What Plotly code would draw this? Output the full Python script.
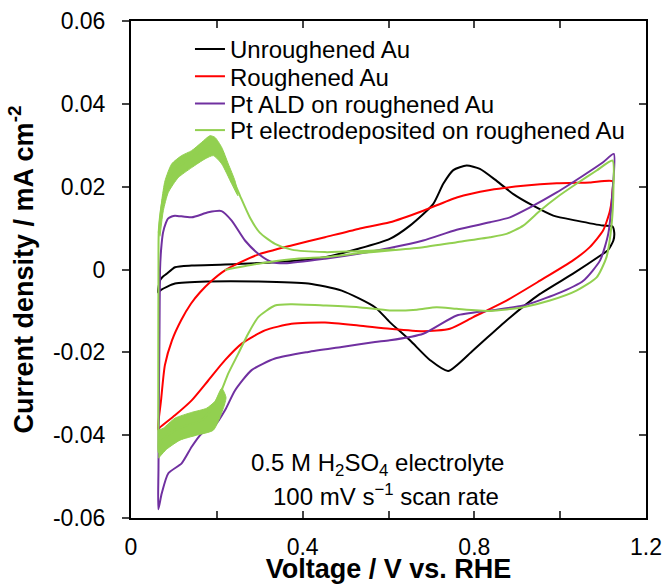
import plotly.graph_objects as go

# ---------------- data ----------------
unrough_v = [0.063, 0.0676, 0.0729, 0.0832, 0.1025, 0.1414, 0.219, 0.3355, 0.452, 0.5296, 0.603, 0.65, 0.704,
             0.7276, 0.751, 0.782, 0.813, 0.852, 0.891, 0.937, 0.984, 1.038, 1.100, 1.122,
             1.126, 1.124, 1.111, 1.100, 1.030, 0.953, 0.875, 0.7975, 0.739, 0.697, 0.650, 0.603, 0.5685,
             0.491, 0.413, 0.2966, 0.180, 0.1025, 0.070, 0.063]
unrough_i = [-0.0055, -0.00265, -0.00186, -0.00104, 0.00055, 0.00096, 0.0012, 0.00176, 0.00296, 0.005, 0.0074,
             0.0106, 0.0158, 0.0207, 0.024, 0.0251, 0.0243, 0.0214, 0.0182, 0.0154, 0.013, 0.0118, 0.0106, 0.0104,
             0.0089, 0.007, 0.0046, 0.0038, -0.001, -0.0059, -0.0123, -0.0195, -0.0245, -0.0219, -0.0171,
             -0.0127, -0.0091, -0.0051, -0.0034, -0.0029, -0.0029, -0.0034, -0.0049, -0.0055]

rough_v = [0.063, 0.070, 0.079, 0.0955, 0.1165, 0.140, 0.161, 0.186, 0.219, 0.258, 0.296, 0.374, 0.452, 0.5296,
           0.603, 0.681, 0.759, 0.8365, 0.914, 0.992, 1.069, 1.122,
           1.122, 1.116, 1.100, 1.069, 1.030, 0.953, 0.875, 0.7975, 0.743, 0.681, 0.603, 0.5296, 0.452, 0.374,
           0.312, 0.258, 0.219, 0.180, 0.1414, 0.1025, 0.0676, 0.063]
rough_i = [-0.0386, -0.0316, -0.0231, -0.0171, -0.0123, -0.0082, -0.0055, -0.0029, -0.0002, 0.0019, 0.0036,
           0.0058, 0.0078, 0.0098, 0.0114, 0.0142, 0.0174, 0.0192, 0.0202, 0.0208, 0.0210, 0.0213,
           0.019, 0.0142, 0.0094, 0.0054, 0.0022, -0.0027, -0.0075, -0.0115, -0.0143, -0.0149, -0.0143,
           -0.0135, -0.0128, -0.0131, -0.0147, -0.0179, -0.0219, -0.0268, -0.0316, -0.0352, -0.0381, -0.0386]

ptald_v = [0.0636, 0.064, 0.065, 0.0664, 0.0676, 0.070, 0.0746, 0.0815, 0.0862, 0.0948, 0.1025, 0.1414, 0.180,
           0.211, 0.2346, 0.2656, 0.2966, 0.328, 0.359, 0.452, 0.5296, 0.603, 0.681, 0.759, 0.8365, 0.883, 0.930,
           0.992, 1.054, 1.100, 1.125,
           1.122, 1.112, 1.093, 1.054, 0.992, 0.914, 0.8365, 0.759, 0.681, 0.603, 0.5685, 0.491, 0.413, 0.3355,
           0.281, 0.2423, 0.219, 0.1957, 0.1647, 0.1414, 0.118, 0.087, 0.0715, 0.0636]
ptald_i = [-0.0579, -0.0484, -0.0316, -0.0147, -0.0002, 0.0046, 0.0089, 0.0113, 0.0123, 0.0128, 0.013, 0.0126,
           0.0138, 0.0141, 0.0118, 0.007, 0.0038, 0.0018, 0.0015, 0.0026, 0.0038, 0.0052, 0.007, 0.0096, 0.0114,
           0.0126, 0.015, 0.0186, 0.0227, 0.0259, 0.0279,
           0.019, 0.0086, 0.0022, -0.0027, -0.0059, -0.0087, -0.0099, -0.0111, -0.0155, -0.0171, -0.0175,
           -0.0187, -0.0199, -0.0215, -0.0243, -0.0292, -0.034, -0.0376, -0.0396, -0.0428, -0.0468, -0.0492,
           -0.0541, -0.0579]

ptel_v = [0.219, 0.2966, 0.374, 0.4636, 0.5296, 0.615, 0.681, 0.759, 0.8365, 0.875, 0.914, 0.953, 0.992, 1.038,
          1.085, 1.122,
          1.124, 1.12, 1.108, 1.085, 1.038, 0.976, 0.914, 0.8365, 0.759, 0.712, 0.666, 0.603, 0.5296, 0.452,
          0.374, 0.3355, 0.2966, 0.273, 0.25, 0.2267, 0.211, 0.1957, 0.1647, 0.1258, 0.1025, 0.079, 0.0676,
          0.0636,
          0.0636, 0.0636, 0.064, 0.0648, 0.0722, 0.0832, 0.1025, 0.128, 0.1514, 0.1724, 0.1864, 0.198, 0.2113,
          0.2307, 0.254, 0.2773, 0.30, 0.3355, 0.374, 0.452, 0.5296, 0.615]
ptel_i = [-0.0001, 0.0014, 0.0025, 0.0031, 0.0039, 0.0047, 0.0054, 0.0066, 0.0078, 0.0086, 0.0106, 0.0142,
          0.0174, 0.0207, 0.0239, 0.0263,
          0.019, 0.011, 0.003, -0.0019, -0.0051, -0.0075, -0.0091, -0.0100, -0.0095, -0.0091, -0.0097, -0.0099,
          -0.0091, -0.0087, -0.0084, -0.0087, -0.0115, -0.0155, -0.0203, -0.0251, -0.0292, -0.0324, -0.0364,
          -0.0378, -0.0388, -0.0407, -0.0422, -0.0441,
          -0.0412, -0.0195, -0.0002, 0.0094, 0.0159, 0.0202, 0.0239, 0.0263, 0.0277, 0.0292, 0.0299, 0.0296,
          0.0275, 0.0234, 0.0178, 0.0125, 0.0089, 0.0062, 0.0048, 0.0042, 0.0044, 0.0048]

# noisy envelope of the electrodeposited-Pt curve (upper hydrogen region)
band1_up_v = [0.0636, 0.0715, 0.0792, 0.0948, 0.118, 0.1414, 0.1647, 0.184, 0.1957, 0.2113, 0.2267, 0.2423]
band1_up_i = [0.0089, 0.0166, 0.0214, 0.0255, 0.0275, 0.0287, 0.0307, 0.0323, 0.0319, 0.0295, 0.0255, 0.0214]
band1_lo_v = [0.0676, 0.0753, 0.0869, 0.1102, 0.1414, 0.1724, 0.1918, 0.2113, 0.2346, 0.2493]
band1_lo_i = [0.008, 0.0142, 0.0186, 0.0222, 0.0246, 0.0267, 0.0275, 0.0255, 0.0207, 0.0178]
# noisy envelope (lower hydrogen region)
band2_up_v = [0.0636, 0.0753, 0.1025, 0.1414, 0.176, 0.1957, 0.2113]
band2_up_i = [-0.0388, -0.0383, -0.0359, -0.0345, -0.0335, -0.0318, -0.0287]
band2_lo_v = [0.0636, 0.083, 0.1142, 0.153, 0.1918, 0.2113, 0.2214]
band2_lo_i = [-0.0456, -0.0434, -0.0412, -0.04, -0.0388, -0.0346, -0.0309]

x_ticks = [0, 0.2, 0.4, 0.6, 0.8, 1.0, 1.2]
x_labels = ["0", "", "0.4", "", "0.8", "", "1.2"]
y_ticks = [-0.06, -0.04, -0.02, 0, 0.02, 0.04, 0.06]
y_labels = ["-0.06", "-0.04", "-0.02", "0", "0.02", "0.04", "0.06"]

BLACK, RED, PURPLE, GREEN = "#000000", "#FF0000", "#7030A0", "#92D050"
FONT = "Liberation Sans, Arial, sans-serif"
SMOOTH = 0.6

fig = go.Figure()
fig.add_trace(go.Scatter(x=unrough_v, y=unrough_i, mode="lines", name="Unroughened Au", legend="legend",
                         line=dict(color=BLACK, width=2, shape="spline", smoothing=SMOOTH)))
fig.add_trace(go.Scatter(x=rough_v, y=rough_i, mode="lines", name="Roughened Au", legend="legend2",
                         line=dict(color=RED, width=2, shape="spline", smoothing=SMOOTH)))
fig.add_trace(go.Scatter(x=ptald_v, y=ptald_i, mode="lines", name="Pt ALD on roughened Au", legend="legend3",
                         line=dict(color=PURPLE, width=2, shape="spline", smoothing=SMOOTH)))
fig.add_trace(go.Scatter(x=band1_up_v + band1_lo_v[::-1], y=band1_up_i + band1_lo_i[::-1],
                         mode="lines", fill="toself", fillcolor=GREEN,
                         line=dict(color=GREEN, width=1, shape="spline", smoothing=SMOOTH),
                         showlegend=False, hoverinfo="skip"))
fig.add_trace(go.Scatter(x=band2_up_v + band2_lo_v[::-1], y=band2_up_i + band2_lo_i[::-1],
                         mode="lines", fill="toself", fillcolor=GREEN,
                         line=dict(color=GREEN, width=1, shape="spline", smoothing=SMOOTH),
                         showlegend=False, hoverinfo="skip"))
fig.add_trace(go.Scatter(x=ptel_v, y=ptel_i, mode="lines", name="Pt electrodeposited on roughened Au",
                         legend="legend4",
                         line=dict(color=GREEN, width=2, shape="spline", smoothing=SMOOTH)))
# dummy trace so the right-hand (inside-tick) axis is drawn
fig.add_trace(go.Scatter(x=[None], y=[None], yaxis="y2", showlegend=False, hoverinfo="skip"))

PLOT_TOP, PLOT_BOT = 21, 518


def leg(yc):
    return dict(x=0.1145, y=(PLOT_BOT - yc) / (PLOT_BOT - PLOT_TOP), xanchor="left", yanchor="middle",
                bgcolor="rgba(0,0,0,0)", font=dict(size=24, family=FONT), itemwidth=30)


fig.update_layout(
    width=665, height=584,
    margin=dict(l=131, r=19, t=PLOT_TOP, b=584 - PLOT_BOT, autoexpand=False),
    paper_bgcolor="white", plot_bgcolor="white",
    font=dict(family=FONT, color="black", size=23),
    showlegend=True,
    legend=leg(49.3), legend2=leg(76.7), legend3=leg(104), legend4=leg(130.5),
    xaxis=dict(range=[0, 1.2], tickvals=x_ticks, ticktext=x_labels, ticks="inside", ticklen=7,
               tickwidth=1.5, showline=True, linewidth=2, linecolor="black", mirror="ticks",
               showgrid=False, zeroline=False, tickfont=dict(size=23, family=FONT),
               ticklabelstandoff=7, automargin=False,
               title=dict(text="<b>Voltage / V vs. RHE</b>", font=dict(size=27, family=FONT), standoff=13)),
    yaxis=dict(range=[-0.06, 0.06], tickvals=y_ticks, ticktext=y_labels, ticks="outside", ticklen=7,
               tickwidth=1.5, showline=True, linewidth=2, linecolor="black", mirror=False,
               showgrid=False, zeroline=False, tickfont=dict(size=23, family=FONT),
               ticklabelstandoff=12, automargin=False,
               title=dict(text="<b>Current density / mA cm<sup>-2</sup></b>", font=dict(size=27, family=FONT),
                          standoff=12)),
    yaxis2=dict(range=[-0.06, 0.06], tickvals=y_ticks, overlaying="y", side="right", ticks="inside",
                ticklen=7, tickwidth=1.5, showline=True, linewidth=2, linecolor="black",
                showticklabels=False, showgrid=False, zeroline=False, automargin=False),
    annotations=[
        dict(x=0.5755, y=-0.0472, xref="x", yref="y", showarrow=False,
             text="0.5 M H<sub>2</sub>SO<sub>4</sub> electrolyte", font=dict(size=24, family=FONT)),
        dict(x=0.594, y=-0.0544, xref="x", yref="y", showarrow=False,
             text="100 mV s<sup>\u22121</sup> scan rate", font=dict(size=24, family=FONT)),
    ],
)

fig.write_html("out.html")
